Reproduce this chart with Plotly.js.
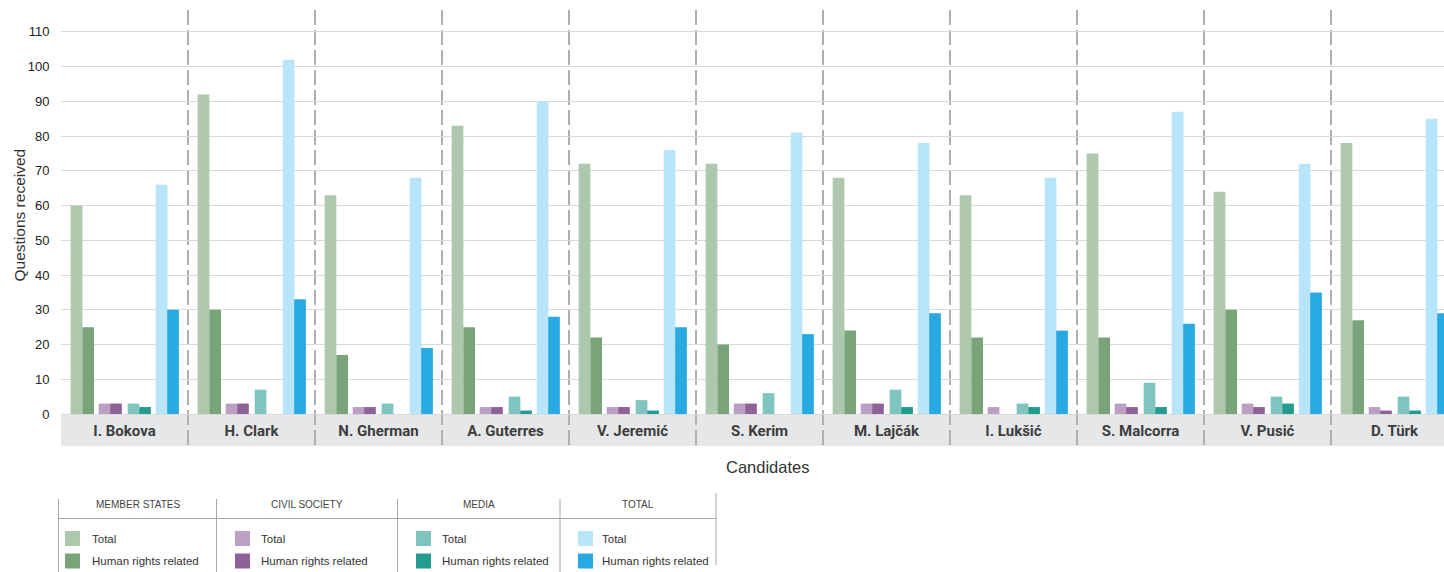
<!DOCTYPE html>
<html><head><meta charset="utf-8">
<script src="https://cdn.plot.ly/plotly-3.0.1.min.js"></script>
<style>html,body{margin:0;padding:0;background:#fff}#chart{width:1444px;height:572px}</style>
</head><body><div id="chart"></div>
<script>
// ---------- data ----------
const categories = ['I. Bokova','H. Clark','N. Gherman','A. Guterres','V. Jeremić','S. Kerim','M. Lajčák','I. Lukšić','S. Malcorra','V. Pusić','D. Türk'];
const memberStatesTotal = [60, 92, 63, 83, 72, 72, 68, 63, 75, 64, 78];
const memberStatesHR    = [25, 30, 17, 25, 22, 20, 24, 22, 22, 30, 27];
const civilSocietyTotal = [3, 3, 2, 2, 2, 3, 3, 2, 3, 3, 2];
const civilSocietyHR    = [3, 3, 2, 2, 2, 3, 3, 0, 2, 2, 1];
const mediaTotal        = [3, 7, 3, 5, 4, 6, 7, 3, 9, 5, 5];
const mediaHR           = [2, 0, 0, 1, 1, 0, 2, 2, 2, 3, 1];
const allTotal          = [66, 102, 68, 90, 76, 81, 78, 68, 87, 72, 85];
const allHR             = [30, 33, 19, 28, 25, 23, 29, 24, 26, 35, 29];
const groupNames = ['MEMBER STATES', 'CIVIL SOCIETY', 'MEDIA', 'TOTAL'];
const itemNames = ['Total', 'Human rights related'];
const yTickVals = [0, 10, 20, 30, 40, 50, 60, 70, 80, 90, 100, 110];
const xTitle = 'Candidates';
const yTitle = 'Questions received';

// ---------- styles ----------
const colors = ['#adc8ad', '#79a47a', '#bba0c3', '#8e6199', '#7fc4be', '#249b8f', '#b9e5fa', '#28a9e1'];
const offsets = [-0.424, -0.332, -0.203, -0.113, 0.025, 0.116, 0.246, 0.336];
const barWidth = 0.092;
const SANS = '"Liberation Sans", Arial, sans-serif';
const ROBOTO = 'Roboto, "Liberation Sans", sans-serif';

const W = 1444, H = 572, L = 61, R = 0, T = 10, B = 126;
const PW = W - L - R, PH = H - T - B;
const pxPerUnit = 3.474, zeroPx = 414;
const yRange = [-(T + PH - zeroPx) / pxPerUnit, (zeroPx - T) / pxPerUnit];
const xRange = [-0.5, 10 + (W - (L + 63.5 + 127 * 10)) / 127];
const xp = px => (px - L) / PW;
const yp = py => (T + PH - py) / PH;

const series = [memberStatesTotal, memberStatesHR, civilSocietyTotal, civilSocietyHR, mediaTotal, mediaHR, allTotal, allHR];
const traces = series.map((vals, i) => ({
  type: 'bar',
  x: categories,
  y: vals,
  name: groupNames[Math.floor(i / 2)] + ' – ' + itemNames[i % 2],
  marker: {color: colors[i], line: {width: 0}},
  offset: offsets[i],
  width: barWidth,
  showlegend: false,
  hovertemplate: '%{x}: %{y}<extra>%{fullData.name}</extra>'
}));

// ---------- custom tabular legend ----------
const colSep = [58.5, 216.5, 397.5, 560, 716];
const swatchX = [65, 235, 416, 578];
const textX = [89.5, 258.5, 439.5, 599.5];
const rowY = [538.5, 561];
const shapes = [
  {type: 'rect', xref: 'paper', yref: 'y', x0: 0, x1: 1, y0: yRange[0], y1: 0,
   fillcolor: '#e6e7e8', line: {width: 0}, layer: 'below'},
  {type: 'line', xref: 'paper', yref: 'paper', x0: xp(colSep[0]), x1: xp(colSep[4]), y0: yp(518.5), y1: yp(518.5),
   line: {color: '#a8a8a8', width: 1}}
];
colSep.forEach((sx, i) => {
  const last = i === colSep.length - 1;
  shapes.push({type: 'line', xref: 'paper', yref: 'paper', x0: xp(sx), x1: xp(sx),
    y0: yp(last ? 493 : 499), y1: yp(last ? 565 : 572), line: {color: '#a8a8a8', width: 1}});
});
const annotations = [];
groupNames.forEach((g, gi) => {
  annotations.push({xref: 'paper', yref: 'paper', x: xp((colSep[gi] + colSep[gi + 1]) / 2), y: yp(504),
    text: g, showarrow: false, xanchor: 'center', yanchor: 'middle',
    font: {family: SANS, size: 10, color: '#444'}});
  itemNames.forEach((it, ri) => {
    shapes.push({type: 'rect', xref: 'paper', yref: 'paper',
      x0: xp(swatchX[gi]), x1: xp(swatchX[gi] + 15), y0: yp(rowY[ri] - 7.5), y1: yp(rowY[ri] + 7.5),
      fillcolor: colors[gi * 2 + ri], line: {width: 0}});
    annotations.push({xref: 'paper', yref: 'paper', x: xp(textX[gi]), y: yp(rowY[ri]),
      text: it, showarrow: false, xanchor: 'left', yanchor: 'middle',
      font: {family: SANS, size: 11.5, color: '#333'}});
  });
});
annotations.push({xref: 'paper', yref: 'paper', x: xp(767), y: yp(467), text: xTitle, showarrow: false,
  xanchor: 'center', yanchor: 'middle', font: {family: SANS, size: 16.5, color: '#333'}});
annotations.push({xref: 'paper', yref: 'paper', x: xp(18.5), y: yp(215), text: yTitle, showarrow: false,
  textangle: -90, xanchor: 'center', yanchor: 'middle', font: {family: SANS, size: 15.5, color: '#333'}});

const layout = {
  width: W, height: H,
  margin: {l: L, r: R, t: T, b: B, pad: 0},
  paper_bgcolor: '#fff', plot_bgcolor: '#fff',
  barmode: 'overlay',
  xaxis: {
    type: 'category', range: xRange, tickson: 'boundaries',
    showgrid: true, gridcolor: '#b0b0b0', gridwidth: 1.5, griddash: '15px,5px',
    ticks: '', ticklabelposition: 'inside', ticklabelstandoff: 4,
    tickfont: {family: ROBOTO, size: 15, weight: 'bold', color: '#3d3d3d'},
    showline: false, zeroline: false, fixedrange: true
  },
  yaxis: {
    range: yRange, tickmode: 'array', tickvals: yTickVals,
    showgrid: true, gridcolor: '#dadada', gridwidth: 1.2, zeroline: false, showline: false,
    ticks: 'outside', ticklen: 8, tickcolor: 'rgba(0,0,0,0)',
    tickfont: {family: SANS, size: 13, color: '#222'},
    fixedrange: true
  },
  shapes: shapes,
  annotations: annotations,
  showlegend: false
};

Plotly.newPlot('chart', traces, layout, {displayModeBar: false});
</script>
</body></html>
